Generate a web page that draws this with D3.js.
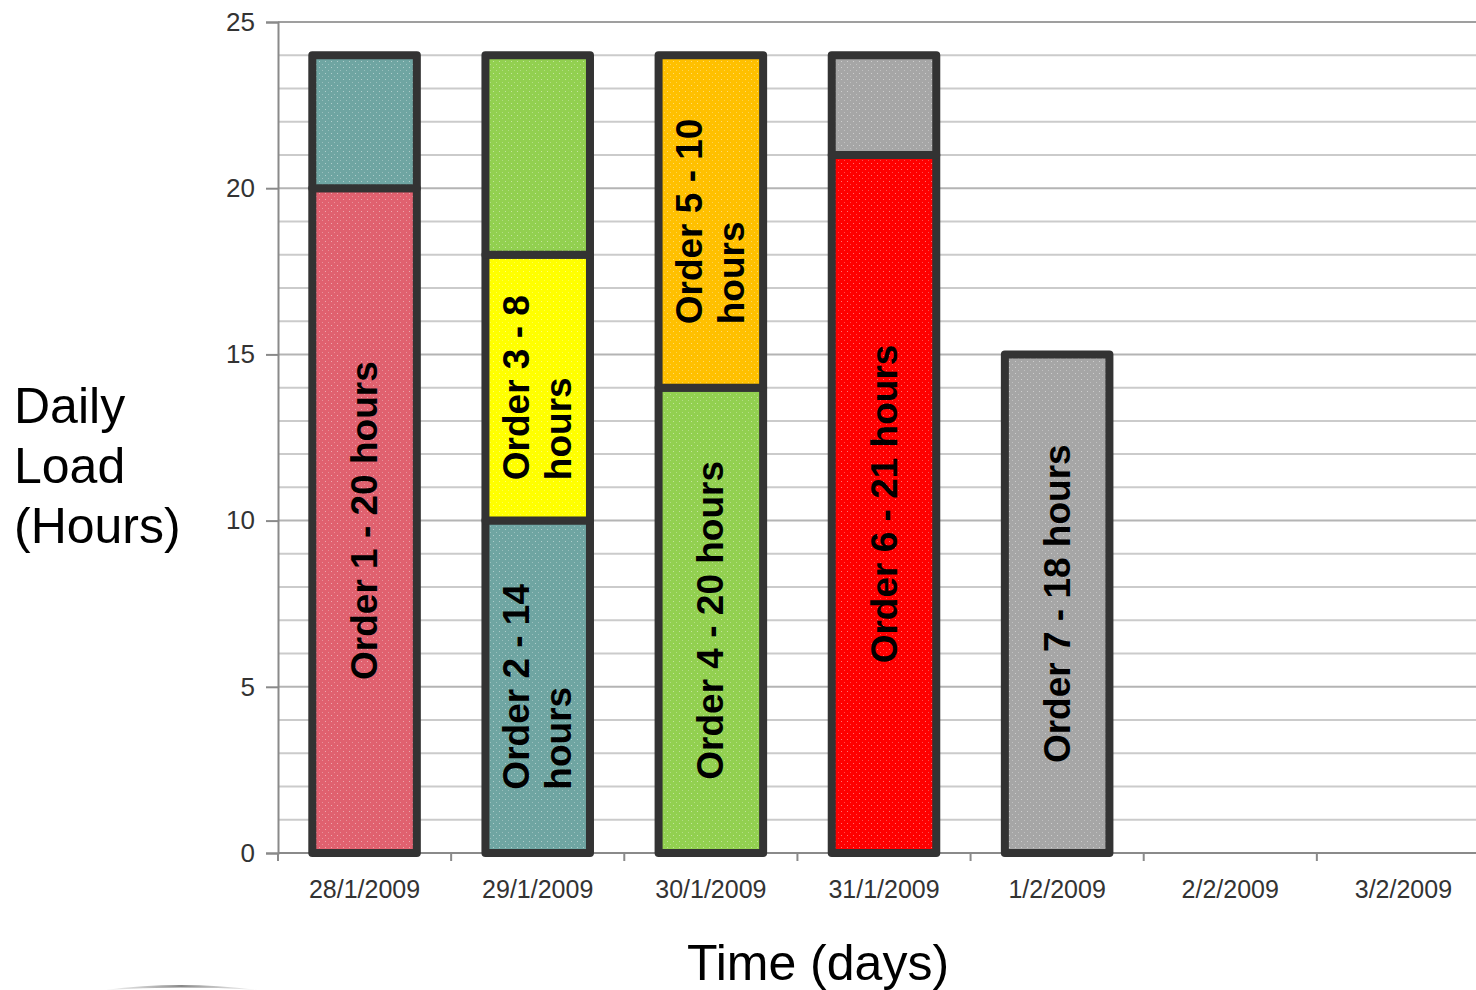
<!DOCTYPE html>
<html>
<head>
<meta charset="utf-8">
<script src="https://cdn.jsdelivr.net/npm/d3@7"></script>
<style>
  html, body { margin: 0; padding: 0; background: #fff; }
  svg { display: block; }
</style>
</head>
<body>
<svg id="chart" width="1476" height="990"></svg>
<script>
// Days on the schedule
const days = ["28/1/2009", "29/1/2009", "30/1/2009", "31/1/2009", "1/2/2009", "2/2/2009", "3/2/2009"];

// Stacked work chunks: which order, which day (index into days), and hours booked
const segOrder = [1, 2, 2, 3, 4, 4, 5, 6, 7, 7];
const segDay   = [0, 0, 1, 1, 1, 2, 2, 3, 3, 4];
const segHours = [20, 4, 10, 8, 6, 14, 10, 21, 3, 15];

// Text written on the chunk that carries each order's label (null = no label)
const segLabel = [
  ["Order 1 - 20 hours"],
  null,
  ["Order 2 - 14", "hours"],
  ["Order 3 - 8", "hours"],
  null,
  ["Order 4 - 20 hours"],
  ["Order 5 - 10", "hours"],
  ["Order 6 - 21 hours"],
  null,
  ["Order 7 - 18 hours"]
];

// Y axis ticks
const yMajorTicks = [0, 5, 10, 15, 20, 25];
const yGridTicks = d3.range(0, 26, 1);

// Fill per order
const orderColor = {
  1: "#e0616f",
  2: "#6fa5a2",
  3: "#ffff00",
  4: "#92d050",
  5: "#ffc000",
  6: "#ff0000",
  7: "#a6a6a6"
};

// Stack the chunks per day
const segStart = [];
const dayTotals = days.map(() => 0);
segHours.forEach((h, i) => {
  segStart.push(dayTotals[segDay[i]]);
  dayTotals[segDay[i]] += h;
});
const segments = segHours.map((h, i) => ({
  order: segOrder[i],
  day: days[segDay[i]],
  y0: segStart[i],
  y1: segStart[i] + h,
  label: segLabel[i]
}));

const svg = d3.select("#chart");

const x = d3.scaleBand()
  .domain(days)
  .range([278, 1490])
  .paddingInner(0.35)
  .paddingOuter(0.175);
const step = x.step();
const x0 = 278;

const y = d3.scaleLinear().domain([0, 25]).range([853, 22]);

// Fine dotted texture laid over the bar fills
const defs = svg.append("defs");
const pat = defs.append("pattern")
  .attr("id", "dots")
  .attr("patternUnits", "userSpaceOnUse")
  .attr("width", 6).attr("height", 6);
pat.append("rect").attr("x", 1).attr("y", 1).attr("width", 1).attr("height", 1)
  .attr("fill", "#fff").attr("opacity", 0.45);
pat.append("rect").attr("x", 4).attr("y", 4).attr("width", 1).attr("height", 1)
  .attr("fill", "#fff").attr("opacity", 0.3);

const arcGrad = defs.append("linearGradient").attr("id", "arcGrad")
  .attr("x1", "0").attr("x2", "1").attr("y1", "0").attr("y2", "0");
arcGrad.append("stop").attr("offset", "0").attr("stop-color", "#bbb").attr("stop-opacity", 0.2);
arcGrad.append("stop").attr("offset", "0.5").attr("stop-color", "#888");
arcGrad.append("stop").attr("offset", "1").attr("stop-color", "#bbb").attr("stop-opacity", 0.2);

// Horizontal gridlines, one per hour
svg.append("g")
  .selectAll("line")
  .data(yGridTicks)
  .join("line")
  .attr("x1", x0).attr("x2", 1476)
  .attr("y1", d => y(d)).attr("y2", d => y(d))
  .attr("stroke", d => d === 25 ? "#9f9f9f" : (d % 5 === 0 ? "#b4b4b4" : "#cbcbcb"))
  .attr("stroke-width", 2);

// Y axis
const yAxis = svg.append("g").attr("transform", `translate(${x0},0)`)
  .call(d3.axisLeft(y).tickValues(yMajorTicks).tickSize(12).tickPadding(11).tickFormat(d3.format("d")));
yAxis.select(".domain").attr("stroke", "#8a8a8a").attr("stroke-width", 2);
yAxis.selectAll(".tick line").attr("stroke", "#8a8a8a").attr("stroke-width", 2);
yAxis.selectAll(".tick text")
  .attr("font-family", "Liberation Sans, Arial, sans-serif")
  .attr("font-size", 26).attr("fill", "#333");

// X axis line and boundary ticks
svg.append("line")
  .attr("x1", x0).attr("x2", 1476)
  .attr("y1", y(0)).attr("y2", y(0))
  .attr("stroke", "#8a8a8a").attr("stroke-width", 2);
svg.append("g")
  .selectAll("line")
  .data(d3.range(0, days.length + 1))
  .join("line")
  .attr("x1", i => x0 + i * step).attr("x2", i => x0 + i * step)
  .attr("y1", y(0)).attr("y2", y(0) + 8)
  .attr("stroke", "#8a8a8a").attr("stroke-width", 2);

svg.append("g")
  .selectAll("text")
  .data(days)
  .join("text")
  .attr("x", d => x(d) + x.bandwidth() / 2)
  .attr("y", 898)
  .attr("text-anchor", "middle")
  .attr("font-family", "Liberation Sans, Arial, sans-serif")
  .attr("font-size", 25)
  .attr("fill", "#333")
  .text(d => d);

// Stacked bars
const segG = svg.append("g").selectAll("g")
  .data(segments)
  .join("g");

segG.append("rect")
  .attr("x", d => x(d.day) + 4)
  .attr("y", d => y(d.y1))
  .attr("width", x.bandwidth() - 8)
  .attr("height", d => y(d.y0) - y(d.y1))
  .attr("fill", d => orderColor[d.order]);

segG.append("rect")
  .attr("x", d => x(d.day) + 4)
  .attr("y", d => y(d.y1))
  .attr("width", x.bandwidth() - 8)
  .attr("height", d => y(d.y0) - y(d.y1))
  .attr("fill", "url(#dots)");

segG.append("rect")
  .attr("x", d => x(d.day) + 4)
  .attr("y", d => y(d.y1))
  .attr("width", x.bandwidth() - 8)
  .attr("height", d => y(d.y0) - y(d.y1))
  .attr("fill", "none")
  .attr("stroke", "#333")
  .attr("stroke-width", 8)
  .attr("stroke-linejoin", "round");

// Rotated order labels; wrapped lines share a common starting edge
const lineGap = 42;
segG.filter(d => d.label)
  .append("text")
  .attr("transform", d => {
    const cx = x(d.day) + x.bandwidth() / 2;
    const cy = (y(d.y0) + y(d.y1)) / 2;
    return `translate(${cx},${cy}) rotate(-90)`;
  })
  .attr("text-anchor", "start")
  .attr("font-family", "Liberation Sans, Arial, sans-serif")
  .attr("font-weight", "bold")
  .attr("font-size", 37)
  .attr("fill", "#000")
  .each(function(d) {
    const n = d.label.length;
    const spans = d3.select(this).selectAll("tspan")
      .data(d.label)
      .join("tspan")
      .attr("y", (t, i) => (i - (n - 1) / 2) * lineGap)
      .attr("dominant-baseline", "central")
      .text(t => t);
    const widest = d3.max(spans.nodes(), s => s.getComputedTextLength());
    spans.attr("x", -widest / 2);
  });

// Axis titles
const yTitle = svg.append("text")
  .attr("font-family", "Liberation Sans, Arial, sans-serif")
  .attr("font-size", 50)
  .attr("fill", "#000");
["Daily", "Load", "(Hours)"].forEach((t, i) => {
  yTitle.append("tspan").attr("x", 14).attr("y", 423 + i * 60).text(t);
});

svg.append("text")
  .attr("x", 818).attr("y", 980)
  .attr("text-anchor", "middle")
  .attr("font-family", "Liberation Sans, Arial, sans-serif")
  .attr("font-size", 50)
  .attr("fill", "#000")
  .text("Time (days)");

// Decorative swoosh at the lower left
svg.append("path")
  .attr("d", "M105,990 Q180,980 258,990 Q180,985 105,990 Z")
  .attr("fill", "url(#arcGrad)");
</script>
</body>
</html>
